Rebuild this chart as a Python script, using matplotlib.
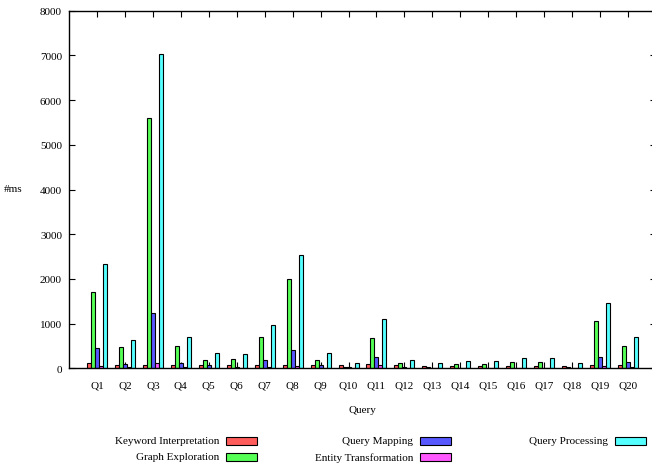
import numpy as np
import matplotlib
matplotlib.use("agg")
import matplotlib.pyplot as plt
from matplotlib.patches import Rectangle

plt.rcParams["font.family"] = ["Liberation Serif", "DejaVu Serif"]

queries = [f"Q{i}" for i in range(1, 21)]
series = ["Keyword Interpretation", "Graph Exploration", "Query Mapping",
          "Entity Transformation", "Query Processing"]
colors = ["#ff5c5c", "#55ff55", "#5858ff", "#ff58ff", "#55ffff"]

keyword = [110, 80, 80, 80, 70, 70, 80, 80, 80, 70,
           90, 70, 60, 60, 60, 60, 60, 60, 80, 70]
graph = [1710, 480, 5590, 500, 190, 200, 700, 2000, 190, 20,
         680, 110, 20, 100, 100, 150, 140, 20, 1050, 500]
mapping = [450, 90, 1230, 110, 80, 40, 180, 400, 80, 20,
           260, 20, 10, 10, 10, 10, 10, 10, 260, 140]
entity = [50, 20, 120, 30, 10, 10, 30, 50, 10, 0,
          70, 5, 0, 5, 5, 5, 5, 0, 60, 20]
processing = [2330, 640, 7030, 700, 340, 330, 970, 2530, 350, 120,
              1100, 190, 110, 170, 170, 240, 220, 110, 1450, 700]

values = [keyword, graph, mapping, entity, processing]

fig = plt.figure(figsize=(6.52, 4.64), dpi=100)
ax = fig.add_axes([69 / 652, 94.7 / 464, 587 / 652, 357.6 / 464])

x = np.arange(len(queries))
w = 1 / 7
for k, (vals, c) in enumerate(zip(values, colors)):
    ax.bar(x + (k - 2) * w, vals, width=w, color=c, edgecolor="black",
           linewidth=0.8, zorder=2)

ax.set_xlim(-1, 20)
ax.set_ylim(0, 8000)
ax.set_yticks(range(0, 8001, 1000))
ax.set_xticks(x)
ax.set_xticklabels(queries, fontsize=8)
ax.tick_params(axis="y", labelsize=8, direction="in", length=4, width=0.8,
               right=True, pad=5)
ax.tick_params(axis="x", direction="in", length=4, width=0.8, top=True, pad=9)
for s in ax.spines.values():
    s.set_linewidth(1.0)

fig.text(13 / 652, 1 - 190 / 464, "#ms", fontsize=8, ha="center", va="center")
fig.text(362 / 652, 1 - 411 / 464, "Query", fontsize=8, ha="center", va="center")

# legend: text right-aligned before a colour box, filled column by column
col_text_right = [219, 413, 608]
row_y = [442, 458]
for i, (name, c) in enumerate(zip(series, colors)):
    col, row = divmod(i, 2)
    tx = col_text_right[col]
    ty = row_y[row]
    fig.text(tx / 652, 1 - ty / 464, name, fontsize=8, ha="right", va="center")
    fig.patches.append(Rectangle(((tx + 7) / 652, 1 - (ty + 4) / 464),
                                 31 / 652, 8 / 464, transform=fig.transFigure,
                                 facecolor=c, edgecolor="black", linewidth=0.8))

fig.savefig("out.png", dpi=100)
